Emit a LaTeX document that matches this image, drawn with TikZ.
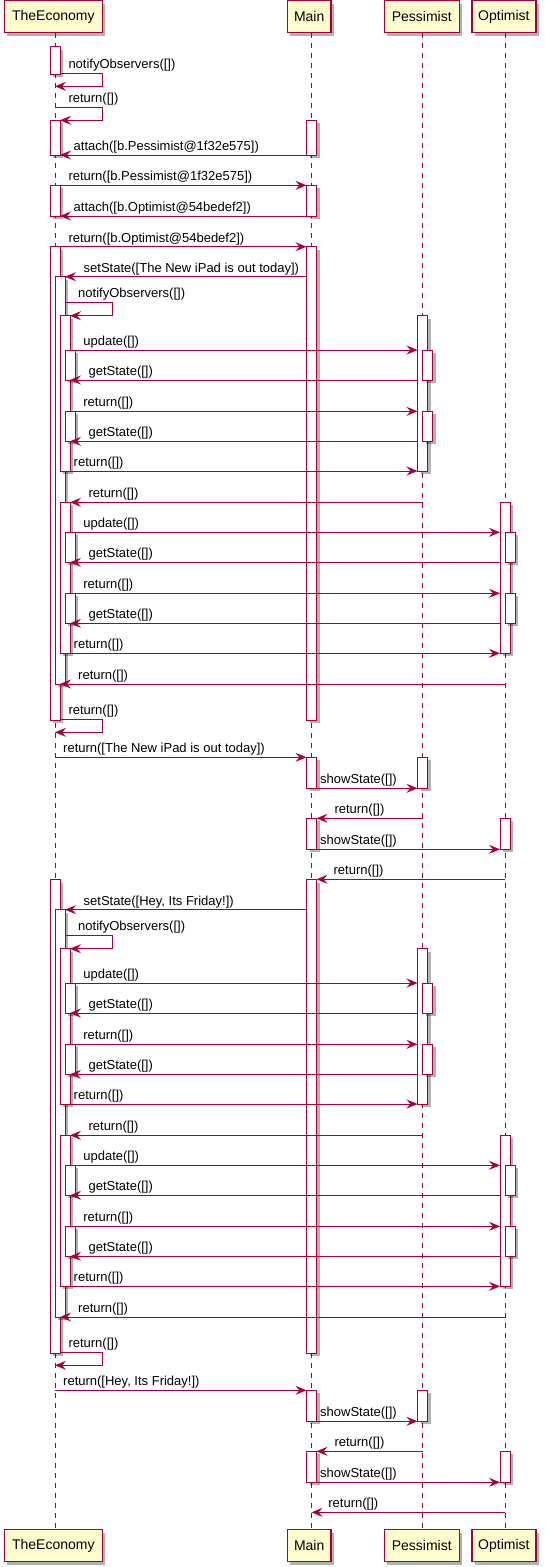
\documentclass[tikz,border=0pt]{standalone}
\usepackage{fontspec}
\setmainfont{Liberation Sans}
\usetikzlibrary{arrows.meta,shadows}
\definecolor{pu}{HTML}{A80036}
\definecolor{pbox}{HTML}{FEFECE}
\newcounter{mc}
\newcommand\sqmsg[5]{\stepcounter{mc}\edef\cid{\arabic{mc}}%
 \coordinate (ms\cid) at (#1,#3);
 \coordinate (mt\cid) at (#2,#3);
 \draw[msgline] (ms\cid) -- (mt\cid);
 \node[lbl] (ml\cid) at (#4,#3-4.7) {#5};}
\newcommand\sqself[7]{\stepcounter{mc}\edef\cid{\arabic{mc}}%
 \coordinate (ms\cid) at (#1,#2);
 \coordinate (ma\cid) at (#3,#2);
 \coordinate (mb\cid) at (#3,#4);
 \coordinate (mt\cid) at (#5,#4);
 \draw[msgline] (ms\cid) -- (ma\cid) -- (mb\cid) -- (mt\cid);
 \node[lbl] (ml\cid) at (#6,#2-4.7) {#7};}
\newcommand\sqact[3]{\draw[actbox] ({#1-5},#2) rectangle ({#1+5},#3);}
\newcommand\sqblockacts[1]{%
\sqact{55}{#1+246.7}{#1+720}
\sqact{311.5}{#1+246.7}{#1+720}
\sqact{60}{#1+276.7}{#1+684}
\sqact{65}{#1+315.7}{#1+471}
\sqact{422.5}{#1+315.7}{#1+471}
\sqact{70}{#1+350}{#1+380}
\sqact{427.5}{#1+350}{#1+380}
\sqact{70}{#1+411.3}{#1+441.3}
\sqact{427.5}{#1+411.3}{#1+441.3}
\sqact{65}{#1+502.3}{#1+653.3}
\sqact{505}{#1+502.3}{#1+653.3}
\sqact{70}{#1+532.3}{#1+562.3}
\sqact{510}{#1+532.3}{#1+562.3}
\sqact{70}{#1+593.3}{#1+623.3}
\sqact{510}{#1+593.3}{#1+623.3}
\sqact{311.5}{#1+757.3}{#1+788.3}
\sqact{422.5}{#1+757.3}{#1+788.3}
\sqact{311.5}{#1+818.3}{#1+849.3}
\sqact{505}{#1+818.3}{#1+849.3}}
\newcommand\sqblockmsgs[2]{%
\sqmsg{306.5}{65}{#1+276.7}{83.5}{setState([#2])}
\sqself{65}{#1+302.5}{112}{#1+315.7}{70}{78}{notifyObservers([])}
\sqmsg{70}{417.5}{#1+350}{83.2}{update([])}
\sqmsg{417.5}{70}{#1+380}{88.4}{getState([])}
\sqmsg{70}{417.5}{#1+411.3}{83.2}{return([])}
\sqmsg{417.5}{70}{#1+441.3}{88.4}{getState([])}
\sqmsg{70}{417.5}{#1+471}{73.5}{return([])}
\sqmsg{422.5}{70}{#1+502.3}{88.4}{return([])}
\sqmsg{70}{500}{#1+532.3}{83.2}{update([])}
\sqmsg{500}{70}{#1+562.3}{88.4}{getState([])}
\sqmsg{70}{500}{#1+593.3}{83.2}{return([])}
\sqmsg{500}{70}{#1+623.3}{88.4}{getState([])}
\sqmsg{70}{500}{#1+653.3}{73.5}{return([])}
\sqmsg{505}{60}{#1+684}{78}{return([])}
\sqself{60}{#1+719.3}{102}{#1+732.3}{55}{68.3}{return([])}
\sqmsg{55}{306.5}{#1+757.3}{63}{return([#2])}
\sqmsg{316.5}{417.5}{#1+788.3}{320}{showState([])}
\sqmsg{422.5}{316.5}{#1+818.3}{334.3}{return([])}
\sqmsg{316.5}{500}{#1+849.3}{320}{showState([])}}
\begin{document}
\begin{tikzpicture}[x=1pt,y=-1pt,
  psh/.style={drop shadow={shadow xshift=3pt,shadow yshift=-3pt,opacity=0.3,fill=black}},
  part/.style={draw=pu,fill=pbox,line width=1.5pt,inner sep=0pt,minimum height=32pt,
     font=\fontsize{14}{16}\selectfont,psh},
  lifeline/.style={draw=pu,line width=1pt,dash pattern=on 5pt off 5pt},
  actbox/.style={draw=pu,fill=white,line width=1pt,psh},
  msgline/.style={draw=pu,line width=1pt,-{Stealth[length=11pt,width=9pt,inset=4pt]}},
  lbl/.style={anchor=base west,inner sep=0pt,font=\fontsize{13}{15}\selectfont}]
\useasboundingbox (0,0) rectangle (545,1567);
% participants
\node[part,minimum width=98pt] (e1) at (53.3,16.5) {TheEconomy};
\node[part,minimum width=43.7pt] (m1) at (309.2,16.5) {Main};
\node[part,minimum width=75pt] (p1) at (421.8,16.5) {Pessimist};
\node[part,minimum width=64.3pt] (o1) at (503.9,16.5) {Optimist};
\node[part,minimum width=98pt] (e2) at (53.3,1545.5) {TheEconomy};
\node[part,minimum width=43.7pt] (m2) at (309.2,1545.5) {Main};
\node[part,minimum width=75pt] (p2) at (421.8,1545.5) {Pessimist};
\node[part,minimum width=64.3pt] (o2) at (503.9,1545.5) {Optimist};
% lifelines
\coordinate (le1) at (55,33); \coordinate (le2) at (55,1529.3);
\coordinate (lm1) at (311.5,33); \coordinate (lm2) at (311.5,1529.3);
\coordinate (lp1) at (422.5,33); \coordinate (lp2) at (422.5,1529.3);
\coordinate (lo1) at (505,33); \coordinate (lo2) at (505,1529.3);
\draw[lifeline] (le1) -- (le2);
\draw[lifeline] (lm1) -- (lm2);
\draw[lifeline] (lp1) -- (lp2);
\draw[lifeline] (lo1) -- (lo2);
% activations
\sqact{55}{46.7}{74}
\sqact{55}{120.3}{155}
\sqact{311.5}{120.3}{155}
\sqact{55}{185.3}{216}
\sqact{311.5}{185.3}{216}
\sqblockacts{0}
\sqblockacts{633}
% messages
\sqself{60}{73.3}{102}{86.3}{55}{68.3}{notifyObservers([])}
\sqself{55}{107.3}{102}{120.3}{60}{68.3}{return([])}
\sqmsg{306.5}{60}{155}{73.5}{attach([b.Pessimist@1f32e575])}
\sqmsg{55}{306.5}{185.3}{68.3}{return([b.Pessimist@1f32e575])}
\sqmsg{306.5}{60}{216}{73.5}{attach([b.Optimist@54bedef2])}
\sqmsg{55}{306.5}{246.7}{68.3}{return([b.Optimist@54bedef2])}
\sqblockmsgs{0}{The New iPad is out today}
\sqmsg{505}{316.5}{879.3}{333.4}{return([])}
\sqblockmsgs{633}{Hey, Its Friday!}
\sqmsg{505}{311.5}{1512.3}{328.2}{return([])}
\end{tikzpicture}
\end{document}
